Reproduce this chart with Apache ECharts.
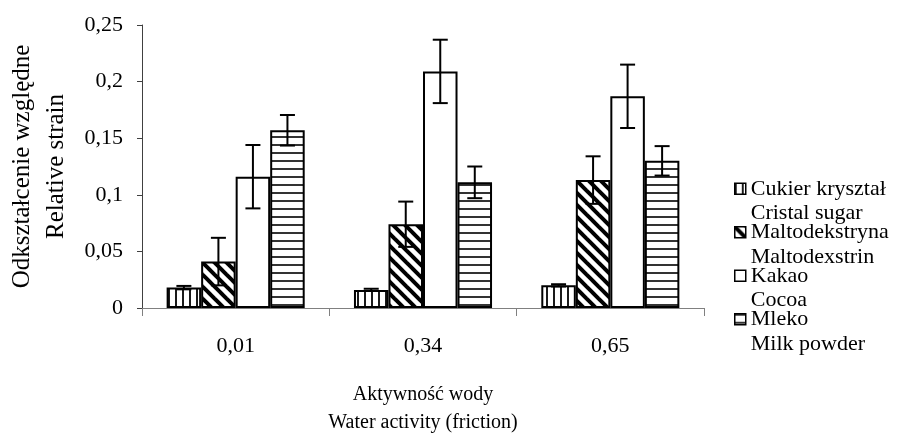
<!DOCTYPE html>
<html>
<head>
<meta charset="utf-8">
<script src="https://cdn.jsdelivr.net/npm/echarts@6/dist/echarts.min.js"></script>
<style>
html,body{margin:0;padding:0;background:#fff;}
#chart{width:916px;height:439px;}
</style>
</head>
<body>
<div id="chart"></div>
<script>
// ---- data ----
const categories = ['0,01', '0,34', '0,65'];
const seriesNamesPL = ['Cukier kryształ', 'Maltodekstryna', 'Kakao', 'Mleko'];
const seriesNamesEN = ['Cristal sugar', 'Maltodexstrin', 'Cocoa', 'Milk powder'];
const cukierValues = [0.018, 0.016, 0.020];
const maltoValues  = [0.041, 0.074, 0.113];
const kakaoValues  = [0.116, 0.209, 0.187];
const mlekoValues  = [0.157, 0.111, 0.130];
const cukierErr = [0.0015, 0.001, 0.001];
const maltoErr  = [0.021, 0.020, 0.021];
const kakaoErr  = [0.028, 0.028, 0.028];
const mlekoErr  = [0.0135, 0.014, 0.013];
const yTicks = { min: 0, max: 0.25, interval: 0.05 };
const xTitle = ['Aktywność wody', 'Water activity (friction)'];
const yTitle = ['Odkształcenie względne', 'Relative strain'];

const allValues = [cukierValues, maltoValues, kakaoValues, mlekoValues];
const allErr = [cukierErr, maltoErr, kakaoErr, mlekoErr];

// ---- patterns ----
function makePattern(kind) {
  const c = document.createElement('canvas');
  let w = 8, h = 8;
  if (kind === 'vertical') { w = 7; h = 7; }
  if (kind === 'diagonal') { w = 12; h = 12; }
  if (kind === 'horizontal') { w = 8; h = 8; }
  c.width = w; c.height = h;
  const ctx = c.getContext('2d');
  ctx.fillStyle = '#fff';
  ctx.fillRect(0, 0, w, h);
  ctx.fillStyle = '#1a1a1a';
  ctx.strokeStyle = '#000';
  if (kind === 'vertical') {
    ctx.fillRect(0, 0, 2, h);
  } else if (kind === 'horizontal') {
    ctx.fillStyle = '#333';
    ctx.fillRect(0, 0, w, 2);
  } else if (kind === 'diagonal') {
    ctx.lineWidth = 4;
    for (let k = -1; k <= 1; k++) {
      ctx.beginPath();
      ctx.moveTo(k * w - 2, -2);
      ctx.lineTo(k * w + w + 2, h + 2);
      ctx.stroke();
    }
  }
  return c;
}

const fills = [
  { image: makePattern('vertical'), repeat: 'repeat' },
  { image: makePattern('diagonal'), repeat: 'repeat' },
  '#ffffff',
  { image: makePattern('horizontal'), repeat: 'repeat' }
];

const CAT_GAP = 0.263;
const FONT = 'Liberation Serif';

const barSeries = seriesNamesPL.map((name, i) => ({
  name: name,
  type: 'bar',
  data: allValues[i],
  barGap: '0%',
  barCategoryGap: (CAT_GAP * 100) + '%',
  itemStyle: { color: fills[i], borderColor: '#000', borderWidth: 2 },
  emphasis: { disabled: true }
}));

const errData = [];
allValues.forEach((vals, s) => {
  vals.forEach((v, c) => errData.push([c, v, allErr[s][c], s]));
});

const errSeries = {
  type: 'custom',
  name: 'err',
  data: errData,
  z: 10,
  silent: true,
  encode: { x: 0, y: 1 },
  renderItem: function (params, api) {
    const cat = api.value(0), v = api.value(1), e = api.value(2), s = api.value(3);
    const band = api.size([1, 0])[0];
    const bw = band * (1 - CAT_GAP) / 4;
    const cx = api.coord([cat, v])[0] + (s - 1.5) * bw;
    const yT = api.coord([cat, v + e])[1];
    const yB = api.coord([cat, v - e])[1];
    const cap = 7.5;
    const st = { stroke: '#000', lineWidth: 2 };
    return {
      type: 'group',
      children: [
        { type: 'line', shape: { x1: cx, y1: yT, x2: cx, y2: yB }, style: st },
        { type: 'line', shape: { x1: cx - cap, y1: yT, x2: cx + cap, y2: yT }, style: st },
        { type: 'line', shape: { x1: cx - cap, y1: yB, x2: cx + cap, y2: yB }, style: st }
      ]
    };
  }
};

const chart = echarts.init(document.getElementById('chart'));
chart.setOption({
  animation: false,
  backgroundColor: '#fff',
  textStyle: { fontFamily: FONT, color: '#000' },
  grid: { left: 142, right: 212, top: 25, bottom: 131, containLabel: false, outerBoundsMode: 'none' },
  legend: {
    data: seriesNamesPL,
    orient: 'vertical',
    left: 729,
    top: 147,
    icon: 'rect',
    itemWidth: 11,
    itemHeight: 11,
    itemGap: -30,
    itemStyle: { borderColor: '#000', borderWidth: 1.5 },
    selectedMode: false,
    formatter: function (name) {
      const i = seriesNamesPL.indexOf(name);
      return ' \n' + name + '\n' + seriesNamesEN[i];
    },
    textStyle: { fontFamily: FONT, fontSize: 22, color: '#000', lineHeight: 24.5 }
  },
  xAxis: {
    type: 'category',
    data: categories,
    axisLine: { lineStyle: { color: '#808080', width: 1 } },
    axisTick: { show: true, length: 8, alignWithLabel: false, lineStyle: { color: '#808080' } },
    axisLabel: { fontFamily: FONT, fontSize: 22, color: '#000', margin: 27 },
    name: xTitle.join('\n'),
    nameLocation: 'middle',
    nameGap: 73,
    nameTextStyle: { fontFamily: FONT, fontSize: 20, color: '#000', lineHeight: 28 }
  },
  yAxis: {
    type: 'value',
    min: yTicks.min,
    max: yTicks.max,
    interval: yTicks.interval,
    splitLine: { show: false },
    axisLine: { show: true, lineStyle: { color: '#404040', width: 1 } },
    axisTick: { show: true, length: 5, lineStyle: { color: '#404040' } },
    axisLabel: {
      fontFamily: FONT, fontSize: 22, color: '#000', margin: 19,
      formatter: v => String(+v.toFixed(2)).replace('.', ',')
    },
    name: yTitle.join('\n'),
    nameLocation: 'middle',
    nameGap: 69,
    nameRotate: 90,
    nameTextStyle: { fontFamily: FONT, fontSize: 25, color: '#000', lineHeight: 34 }
  },
  series: barSeries.concat([errSeries])
});
</script>
</body>
</html>
